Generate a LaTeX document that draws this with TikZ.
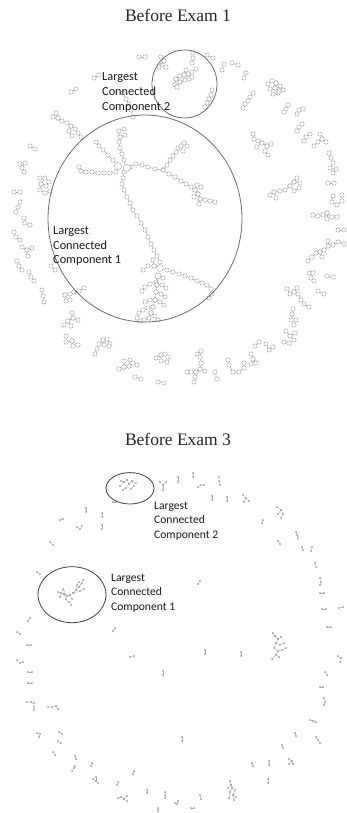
\documentclass[tikz,border=0pt]{standalone}
\usepackage{fontspec}
\setmainfont{Liberation Serif}
\newfontfamily\lblfont{Carlito}
\tikzset{
  g1/.style={draw=gray!75, line width=0.4pt, mark=*, mark size=2.2,
    mark options={draw=gray!75, fill=white, line width=0.4pt}},
  g3/.style={draw=gray!65, line width=0.35pt, mark=*, mark size=0.85,
    mark options={draw=gray!70, fill=gray!70, line width=0.2pt}},
  hubnode/.style={draw=gray!75, fill=white, line width=0.4pt},
  ringA/.style={draw=gray!85!black, line width=0.8pt},
  ringB/.style={draw=gray!50!black, line width=0.8pt},
  ttl/.style={font=\fontsize{17.5}{20}\selectfont, inner sep=0pt, anchor=base, text=black!85},
  lbl/.style={font=\lblfont\fontsize{12.3}{14.7}\selectfont, inner sep=0pt, anchor=base west, text=black!90},
  lblb/.style={font=\lblfont\fontsize{11.6}{14}\selectfont, inner sep=0pt, anchor=base west, text=black!90}
}
\newcommand\netA[1]{\draw[g1] plot coordinates {#1};}
\newcommand\netB[1]{\draw[g3] plot coordinates {#1};}
\begin{document}
\begin{tikzpicture}[x=1pt,y=-1pt]
\useasboundingbox (0,0) rectangle (347,813);
\fill[white] (0,0) rectangle (347,813);

% ================= Before Exam 1 =================
\node[ttl] (t1) at (178,22) {Before Exam 1};

% --- outer small components (upper) ---
\netA{(139,57) (145,57)}
\netA{(94,78) (99,75)}
\netA{(71,92) (76,89)}
\netA{(53,117) (58,118) (62,121) (67,123) (71,126) (75,129) (78,133) (81,137)}
\netA{(56,113) (58,118)}
\netA{(71,126) (69,131) (72,136)}
\netA{(30,146) (35,149)}
\netA{(20,164) (25,163) (22,168) (24,172)}
\netA{(40,178) (45,178) (41,184) (46,186) (49,182)}
\netA{(41,184) (40,190) (45,193) (50,191)}
\netA{(14,192) (20,192)}
\netA{(20,202) (18,207) (16,212)}
\netA{(24,218) (25,223) (30,225)}
\netA{(14,232) (16,237) (20,240)}
\netA{(22,247) (27,250) (32,248)}
\netA{(27,250) (28,256)}
\netA{(17,261) (19,266) (22,270)}
\netA{(29,272) (31,277) (34,281)}
\netA{(51,266) (55,270)}
\netA{(42,290) (43,296) (44,302)}
\netA{(65,295) (70,294) (74,292) (79,291) (84,288)}
\netA{(65,295) (66,301) (70,300)}
\netA{(72,313) (73,318) (68,321) (64,325)}
\netA{(73,318) (78,320)}
\netA{(68,321) (71,326)}
\netA{(66,336) (66,342) (72,341) (78,345)}
\netA{(72,341) (73,346)}
\netA{(95,354) (97,349) (99,344) (103,340) (107,339) (110,344)}
\netA{(103,340) (104,345) (109,346)}
\netA{(119,369) (124,367) (129,366) (133,363) (137,365)}
\netA{(124,367) (124,361)}
\netA{(129,366) (130,360)}
\netA{(135,377) (141,379)}
\netA{(156,358) (161,355) (165,354) (168,357)}
\netA{(161,355) (161,361) (167,362)}
\netA{(158,382) (164,383)}
\netA{(197,354) (201,351) (200,357) (201,363) (200,369) (196,372) (191,372) (187,372)}
\netA{(200,369) (205,371)}
\netA{(196,372) (195,377) (194,382)}
\netA{(215,372) (217,379)}
\netA{(228,360) (229,365) (233,372) (239,372) (244,368) (244,363)}
\netA{(251,354) (253,359) (251,364)}
\netA{(253,359) (256,363)}
\netA{(255,346) (259,342)}
\netA{(266,344) (269,350) (273,347)}
\netA{(286,331) (290,336) (295,333)}
\netA{(290,336) (294,340) (289,343) (284,342)}
\netA{(293,309) (292,314) (291,320) (296,320) (294,325)}
\netA{(287,289) (290,294) (294,292) (298,294) (301,300) (304,304) (309,307)}
\netA{(294,292) (297,288)}
\netA{(318,291) (324,294)}
\netA{(309,273) (313,273) (311,278) (314,281)}
\netA{(327,276) (333,277)}
\netA{(308,261) (312,257) (316,253) (320,252) (324,250) (328,246) (333,245) (338,242) (344,244)}
\netA{(320,252) (322,257)}
\netA{(328,246) (328,241)}
\netA{(338,230) (344,230)}
\netA{(313,215) (318,216) (323,215) (327,213) (332,217) (337,217)}
\netA{(327,213) (327,219)}
\netA{(333,196) (332,202) (337,205) (342,201) (342,195)}
\netA{(328,183) (334,183)}
\netA{(329,153) (331,158) (333,163) (330,168) (336,169) (333,173)}
\netA{(270,195) (274,192) (280,191) (285,190) (290,186) (294,182) (297,178)}
\netA{(274,192) (276,198)}
\netA{(290,186) (294,191) (299,188)}
\netA{(294,182) (300,183)}
\netA{(207,55) (213,58)}
\netA{(224,64) (222,70)}
\netA{(232,63) (238,65)}
\netA{(246,73) (244,78)}
\netA{(268,84) (272,81) (276,83) (275,88) (270,89)}
\netA{(276,83) (280,86) (283,90) (278,93) (273,94)}
\netA{(275,88) (279,91)}
\netA{(253,93) (250,97) (248,101) (245,104) (243,108)}
\netA{(288,105) (286,109) (284,112)}
\netA{(303,109) (299,110) (297,114)}
\netA{(302,124) (299,127) (297,131)}
\netA{(310,134) (306,137) (304,141)}
\netA{(320,134) (322,139) (318,142) (314,146)}
\netA{(322,139) (326,142)}
\netA{(253,134) (254,139) (258,141) (262,143) (267,146) (265,151) (268,155)}
\netA{(262,143) (257,147)}
\netA{(267,146) (271,144)}

% --- component 2 (inside small circle) ---
\netA{(161,57) (164,61) (162,65) (166,67)}
\netA{(164,61) (159,67)}
\netA{(193,53) (193,58) (192,63)}
\netA{(175,85) (176,79) (180,76) (184,75) (188,74) (192,72) (196,69)}
\netA{(176,79) (180,82) (185,80) (189,79) (192,77)}
\netA{(184,75) (186,70)}
\netA{(180,82) (177,87)}
\netA{(212,90) (211,95) (209,99) (207,103) (205,107)}

% --- component 1 (tree inside big circle) ---
\netA{(123,93) (126,99) (129,104) (131,110) (133,117)}
\netA{(126,168) (124,160) (122,154) (120,148) (119,142) (120,137) (119,131) (124,129)}
\netA{(120,137) (125,135)}
\netA{(118,166) (113,160) (108,155) (103,150) (99,146) (96,142)}
\netA{(116,172) (110,173) (104,173) (98,173) (92,172) (86,172) (81,171) (79,167)}
\netA{(130,167) (136,164) (142,165) (148,167) (155,169) (163,170)}
\netA{(163,170) (167,165) (170,160) (173,156) (176,152) (178,148) (181,146) (184,143) (187,146)}
\netA{(181,146) (183,151)}
\netA{(163,170) (169,174) (175,177) (181,181) (186,184) (191,187) (195,190) (198,194) (200,199) (205,200) (210,201) (215,202)}
\netA{(195,190) (197,185) (201,187)}
\netA{(198,194) (194,197)}
\netA{(200,199) (199,204)}
\netA{(124,172) (123,178) (122,184) (124,190) (127,197) (130,203) (133,210) (137,216) (141,223) (145,230) (148,237) (151,244) (154,250) (157,256) (160,262) (160,268)}
\netA{(160,268) (154,266) (148,266) (143,270)}
\netA{(154,266) (153,260)}
\netA{(160,268) (167,270) (173,272) (179,274) (185,276) (191,278) (197,281) (202,283) (207,285) (211,289) (212,294) (209,298)}
\netA{(158,276) (156,282) (150,284) (145,287) (142,291)}
\netA{(160,268) (158,276) (157,285) (156,292) (155,300) (153,307) (151,313) (149,318)}
\netA{(157,285) (162,285) (166,288)}
\netA{(156,292) (161,294) (165,297)}
\netA{(155,300) (150,300) (145,302)}
\netA{(155,300) (160,302) (164,305)}
\netA{(153,307) (148,308) (143,310) (139,313) (137,318)}
\netA{(151,313) (155,316) (158,320)}
\netA{(149,318) (144,320) (140,321)}
\netA{(158,276) (163,278)}
\path[hubnode] (118,166) circle (3.6);
\path[hubnode] (127,168) circle (3.6);
\path[hubnode] (160,268) circle (3.4);
\path[hubnode] (158,276) circle (3.0);

% --- rings and labels ---
\draw[ringA] (184.5,84) ellipse [x radius=32.5, y radius=34];
\draw[ringA] (145,218.5) ellipse [x radius=97, y radius=103.5];
\node[lbl] (a2a) at (102,81) {Largest};
\node[lbl] (a2b) at (102,96) {Connected};
\node[lbl] (a2c) at (102,110.5) {Component 2};
\node[lbl] (a1a) at (53,234) {Largest};
\node[lbl] (a1b) at (53,249) {Connected};
\node[lbl] (a1c) at (53,263.5) {Component 1};

% ================= Before Exam 3 =================
\node[ttl] (t3) at (178,445) {Before Exam 3};

% component 2
\netB{(120,486) (124,482) (127,480) (129,484) (132,481) (134,486) (131,489)}
\netB{(129,484) (126,488) (123,490)}
\netB{(124,482) (121,481)}
\netB{(132,481) (136,483)}
\netB{(113,502) (116,502)}
% component 1
\netB{(58,592) (61,593) (64,594) (67,596) (70,595) (73,593) (76,590) (79,587) (82,583)}
\netB{(64,594) (66,599) (69,602) (71,605)}
\netB{(70,595) (72,599)}
\netB{(76,590) (77,585) (79,582)}
\netB{(73,593) (80,591) (84,589)}
\netB{(67,596) (63,589) (60,597)}
\netB{(79,587) (83,580)}
% others
\netB{(160,482) (163,485) (166,482)}
\netB{(163,485) (163,490)}
\netB{(178,477) (178,482)}
\netB{(193,473) (193,477)}
\netB{(198,487) (201,485) (204,485)}
\netB{(219,477) (219,481) (220,485)}
\netB{(212,496) (212,500)}
\netB{(227,497) (227,501)}
\netB{(243,495) (246,498) (249,501)}
\netB{(246,498) (244,502)}
\netB{(277,507) (281,510) (283,514) (281,518)}
\netB{(281,510) (278,514)}
\netB{(263,520) (262,523)}
\netB{(296,532) (297,535) (298,538)}
\netB{(278,541) (280,544)}
\netB{(302,547) (303,550)}
\netB{(312,547) (311,551)}
\netB{(315,563) (316,567)}
\netB{(320,578) (321,582) (320,585)}
\netB{(320,593) (324,593)}
\netB{(322,609) (326,609)}
\netB{(339,608) (343,607)}
\netB{(198,584) (200,581)}
\netB{(86,508) (86,512)}
\netB{(102,513) (102,517)}
\netB{(102,525) (102,529)}
\netB{(60,520) (63,519)}
\netB{(77,527) (80,529) (82,526)}
\netB{(50,542) (53,545)}
\netB{(37,572) (40,574)}
\netB{(30,618) (28,621)}
\netB{(17,632) (20,634)}
\netB{(115,628) (113,631)}
\netB{(27,645) (31,645)}
\netB{(17,660) (20,663) (23,662)}
\netB{(130,657) (134,656)}
\netB{(205,650) (205,654)}
\netB{(241,652) (241,656)}
\netB{(275,636) (278,639) (281,637)}
\netB{(278,639) (276,643) (280,645) (284,643)}
\netB{(276,643) (274,648) (278,651) (282,650) (286,648)}
\netB{(278,651) (276,655) (272,659)}
\netB{(276,655) (279,657)}
\netB{(273,633) (275,636)}
\netB{(327,627) (331,627)}
\netB{(338,656) (341,658) (340,662)}
\netB{(325,672) (327,675)}
\netB{(320,687) (323,687)}
\netB{(324,698) (325,702) (324,705)}
\netB{(310,720) (313,721) (316,722)}
\netB{(316,737) (318,740) (320,743)}
\netB{(295,733) (296,736)}
\netB{(282,745) (283,748)}
\netB{(289,759) (292,761) (293,764)}
\netB{(292,761) (289,764)}
\netB{(269,761) (269,765)}
\netB{(252,763) (253,766)}
\netB{(268,779) (268,783)}
\netB{(230,781) (231,785) (232,788) (235,790) (233,795) (234,800)}
\netB{(231,785) (228,788)}
\netB{(232,788) (230,792) (229,798)}
\netB{(233,795) (236,797)}
\netB{(200,795) (201,799)}
\netB{(191,808) (194,808)}
\netB{(175,803) (177,804) (178,801)}
\netB{(165,792) (165,795) (165,798)}
\netB{(158,808) (158,811)}
\netB{(147,790) (147,793)}
\netB{(118,798) (121,797) (124,799) (127,796)}
\netB{(124,799) (127,801)}
\netB{(118,782) (117,785)}
\netB{(134,771) (133,774)}
\netB{(93,779) (96,781) (98,783)}
\netB{(96,781) (96,777)}
\netB{(92,763) (91,766)}
\netB{(72,771) (74,768) (75,766)}
\netB{(75,756) (76,759)}
\netB{(53,752) (55,755)}
\netB{(59,732) (62,734)}
\netB{(58,741) (61,743)}
\netB{(37,733) (40,734) (39,737)}
\netB{(48,707) (52,707) (56,706) (58,709)}
\netB{(27,702) (31,702) (34,703) (34,707) (34,710)}
\netB{(28,683) (32,683)}
\netB{(28,672) (32,672)}
\netB{(182,737) (182,741)}
\netB{(163,671) (163,675)}

\draw[ringB] (130,488.3) ellipse [x radius=24, y radius=15.7];
\draw[ringB] (72,594.7) ellipse [x radius=34, y radius=28];
\node[lblb] (b2a) at (154,509) {Largest};
\node[lblb] (b2b) at (154,523.5) {Connected};
\node[lblb] (b2c) at (154,538) {Component 2};
\node[lblb] (b1a) at (111,581) {Largest};
\node[lblb] (b1b) at (111,595.5) {Connected};
\node[lblb] (b1c) at (111,610) {Component 1};
\end{tikzpicture}
\end{document}
